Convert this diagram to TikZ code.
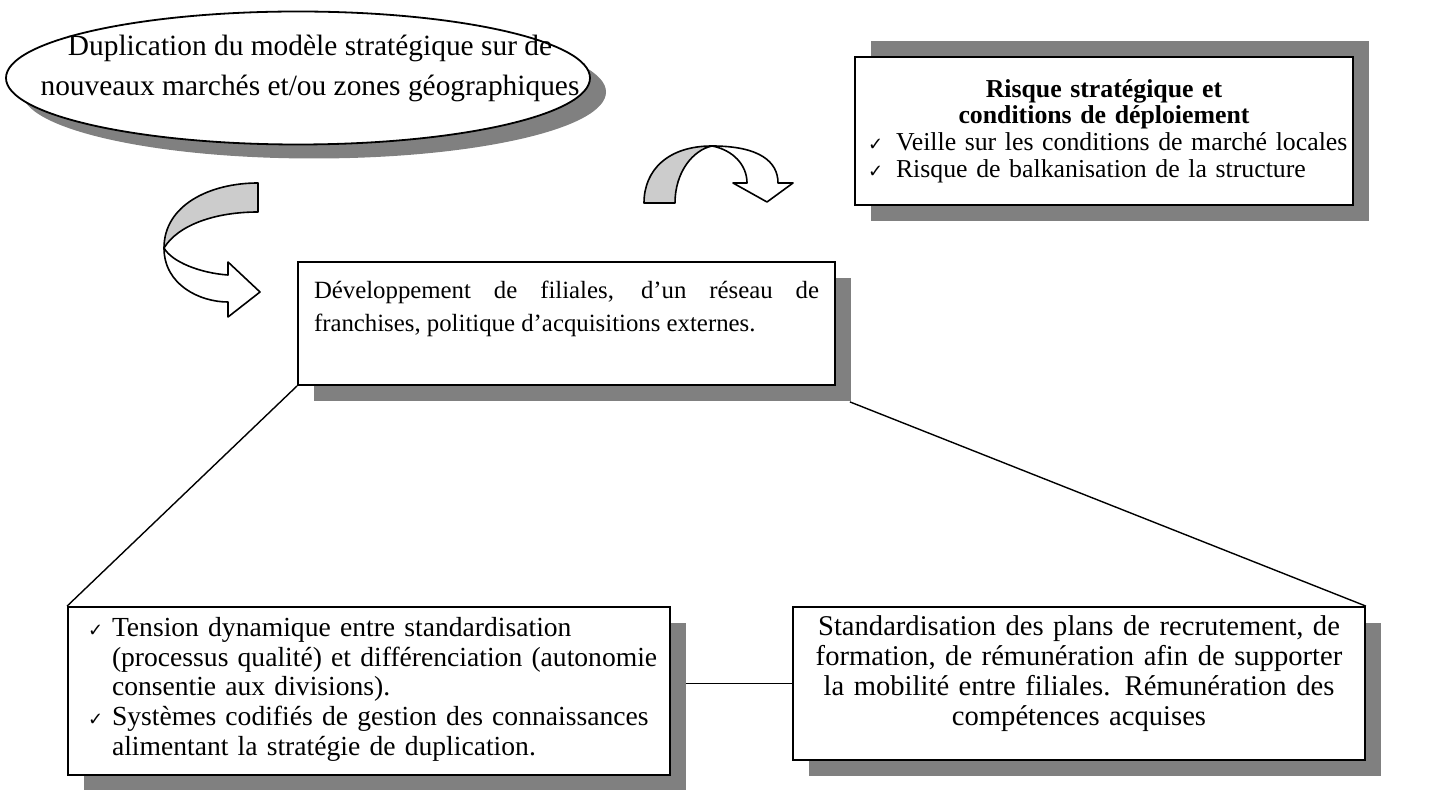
\documentclass[tikz,border=0pt]{standalone}
\usepackage{fontspec}
\setmainfont{Liberation Serif}
\newfontfamily\symfont{DejaVu Sans}
\usetikzlibrary{shapes.geometric, shadows, backgrounds}

\newcommand{\chkitem}[2]{\par\noindent\hangindent=#1\hangafter=1\makebox[#1][l]{\symfont\small ✓}#2\par}
\newcommand{\lift}[2][0pt]{\par\vspace{#1}\noindent\rule{0pt}{#2}}

\begin{document}
\begin{tikzpicture}[x=0.5pt, y=-0.5pt,
	shadowed/.style={drop shadow={shadow xshift=8pt, shadow yshift=-8pt, fill=black!50, opacity=1}},
	block/.style={draw, line width=0.9pt, fill=white, shadowed},
	oval/.style={ellipse, draw, line width=0.9pt, fill=white, inner sep=0pt,
		drop shadow={shadow xshift=8pt, shadow yshift=-7pt, fill=black!50, opacity=1}},
	turn/.style={draw, line width=0.8pt, line join=round},
	link/.style={line width=0.7pt}]
\useasboundingbox (0,0) rectangle (1433,790);

\node[oval, minimum width=292pt, minimum height=66.5pt] (dup) at (298,78) {};
\node[align=center, font=\fontsize{14.7}{20}\selectfont] at ([xshift=6pt, yshift=5pt]dup.center)
	{Duplication du modèle stratégique sur de\\nouveaux marchés et/ou zones géographiques};

\node[block, drop shadow={shadow xshift=8pt, shadow yshift=8pt, fill=black!50, opacity=1},
	minimum width=249pt, minimum height=74pt, inner xsep=2pt, text width=245pt, align=left,
	font=\fontsize{12.9}{13.4}\selectfont] (risk) at (1104,131)
	{\hyphenpenalty=10000 {\centering\bfseries Risque stratégique et\\conditions de déploiement\par}
	\leftskip=4.5pt
	\chkitem{14pt}{Veille sur les conditions de marché locales}
	\chkitem{14pt}{Risque de balkanisation de la structure}};

\node[block, minimum width=268.5pt, minimum height=61.5pt, inner xsep=8pt, text width=252.5pt, align=justify,
	font=\fontsize{12.4}{16.5}\selectfont] (dev) at (566.5,323.5)
	{Développement de filiales, d’un réseau de\linebreak franchises, politique d’acquisitions externes.\lift{14pt}};

\node[block, minimum width=301pt, minimum height=84pt, inner xsep=3pt, text width=295pt, align=left,
	font=\fontsize{13.8}{14.8}\selectfont] (tension) at (369,691)
	{\vspace*{-7pt}\hyphenpenalty=10000 \leftskip=7pt
	\chkitem{12pt}{Tension dynamique entre standardisation\newline (processus qualité) et différenciation (autonomie\newline consentie aux divisions).}
	\chkitem{12pt}{Systèmes codifiés de gestion des connaissances\newline alimentant la stratégie de duplication.}};

\node[block, minimum width=286pt, minimum height=76.5pt, inner xsep=4pt, text width=278pt, align=center,
	font=\fontsize{14.3}{15}\selectfont] (staff) at (1079,683.5)
	{Standardisation des plans de recrutement, de\\formation, de rémunération afin de supporter\\la mobilité entre filiales. Rémunération des\\compétences acquises\lift[-2pt]{8pt}};

% curved arrows
\draw[turn, fill=black!20] (164,248) .. controls (164,205) and (210,183) .. (258,183) -- (258,212) .. controls (215,212) and (178,225) .. cycle;
\draw[turn, fill=white] (164,248) .. controls (164,285) and (200,302) .. (228,302) -- (228,317) -- (260,292) -- (228,262) -- (228,275) .. controls (200,273) and (172,262) .. cycle;

\draw[turn, fill=black!20] (644,203) .. controls (644,170) and (668,146) .. (712,146) .. controls (693,150) and (675,172) .. (675,203) -- cycle;
\draw[turn, fill=white] (712,146) .. controls (760,146) and (778,162) .. (778,183) -- (793,183) -- (767,202) -- (733,183) -- (747,183) .. controls (747,165) and (733,150) .. cycle;

\begin{scope}[on background layer]
\draw[link] (dev.south west) -- (tension.north west);
\draw[link] ([shift={(7pt,-8pt)}]dev.south east) -- (staff.north east);
\draw[link] (tension.east |- staff.west) -- (staff.west);
\end{scope}
\end{tikzpicture}
\end{document}
